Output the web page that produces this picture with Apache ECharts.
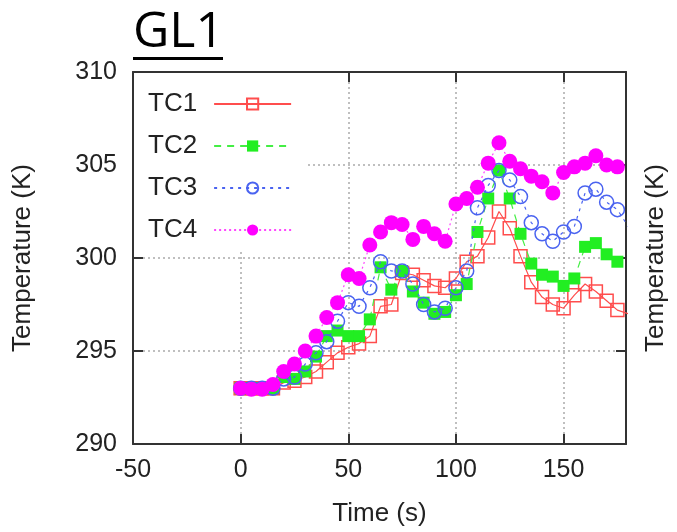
<!DOCTYPE html>
<html>
<head>
<meta charset="utf-8">
<script src="https://cdn.jsdelivr.net/npm/echarts@6/dist/echarts.min.js"></script>
<style>html,body{margin:0;padding:0;background:#fff}#c{width:677px;height:532px}</style>
</head>
<body>
<div id="c"></div>
<script>
const times = [0,5,10,15,20,25,30,35,40,45,50,55,60,65,70,75,80,85,90,95,100,105,110,115,120,125,130,135,140,145,150,155,160,165,170,175,180];
const tc1 = [293.0,293.0,293.0,293.0,293.3,293.4,293.6,293.9,294.4,294.9,295.2,295.4,295.8,297.4,297.5,299.2,299.1,298.8,298.5,298.4,298.9,299.8,300.1,301.1,302.5,301.6,300.1,298.7,297.9,297.5,297.3,298.0,298.6,298.2,297.7,297.2,297.0];
const tc2 = [293.0,293.0,293.0,293.0,293.6,293.5,293.9,294.7,295.8,296.1,295.8,295.8,296.7,299.5,298.3,299.3,298.2,297.6,297.0,297.1,298.0,298.6,301.4,303.2,304.7,303.2,301.3,299.7,299.1,299.0,298.5,298.9,300.6,300.8,300.2,299.8,null];
const tc3 = [293.0,293.0,293.0,293.0,293.5,293.6,294.3,294.9,295.5,296.6,297.6,297.4,298.4,299.8,299.3,299.3,298.6,297.5,297.1,297.3,298.4,299.3,302.7,303.9,304.7,304.2,303.3,301.9,301.3,300.9,301.4,301.7,303.5,303.7,303.0,302.6,301.7];
const tc4 = [293.0,292.95,292.95,293.2,293.9,294.3,295.0,295.8,296.8,297.6,299.1,298.9,300.7,301.4,301.9,301.8,301.0,301.7,301.3,300.9,302.9,303.2,303.8,305.1,306.2,305.2,304.8,304.4,304.1,303.5,304.6,304.9,305.1,305.5,305.0,304.9,null];
const seriesNames = ['TC1','TC2','TC3','TC4'];
const xTitle = 'Time (s)';
const yTitle = 'Temperature (K)';
const chartTitle = 'GL1';

function pairs(arr){ return times.map((t,i)=>[t,arr[i]]); }

const FONT = 'Liberation Sans';
const axisCol = '#333';
const chart = echarts.init(document.getElementById('c'), null, {renderer:'canvas'});
const gridLine = {show:true, lineStyle:{color:'#aaa', width:1.5, type:[2,3]}};
const tickIn = {show:true, inside:true, length:10, lineStyle:{color:axisCol, width:2}};
const axLine = {show:true, onZero:false, lineStyle:{color:axisCol, width:2}};

chart.setOption({
  animation:false,
  backgroundColor:'#fff',
  title:{text:chartTitle, left:128, top:3, textStyle:{fontFamily:'Open Sans', fontSize:50, fontWeight:'normal', color:'#000'}},
  graphic:[{type:'rect', shape:{x:133, y:57, width:90, height:3}, style:{fill:'#000'}}],
  grid:{left:133, right:37, top:72, bottom:86, containLabel:false},
  legend:{
    orient:'vertical', left:134, top:73, align:'right',
    backgroundColor:'#fff', padding:[18,14,7,14],
    itemWidth:77, itemHeight:14, itemGap:16,
    textStyle:{fontFamily:FONT, fontSize:26, color:'#222', lineHeight:26, padding:[0,12,0,0]},
    data:seriesNames
  },
  xAxis:[
    {type:'value', min:-50, max:179, interval:50, position:'bottom',
     axisLine:axLine, axisTick:tickIn, splitLine:gridLine,
     axisLabel:{margin:14, fontFamily:FONT, fontSize:25, color:'#222', showMaxLabel:false},
     name:xTitle, nameLocation:'middle', nameGap:57,
     nameTextStyle:{fontFamily:FONT, fontSize:26, color:'#222'}},
    {type:'value', min:-50, max:179, interval:50, position:'top',
     axisLine:axLine, axisTick:tickIn, splitLine:{show:false}, axisLabel:{show:false}}
  ],
  yAxis:[
    {type:'value', min:290, max:310, interval:5, position:'left',
     axisLine:axLine, axisTick:tickIn, splitLine:gridLine,
     axisLabel:{margin:16, fontFamily:FONT, fontSize:25, color:'#222'},
     name:yTitle, nameLocation:'middle', nameGap:97, nameRotate:90,
     nameTextStyle:{fontFamily:FONT, fontSize:26, color:'#222'}},
    {type:'value', min:290, max:310, interval:5, position:'right',
     axisLine:axLine, axisTick:tickIn, splitLine:{show:false}, axisLabel:{show:false},
     name:yTitle, nameLocation:'middle', nameGap:17, nameRotate:90,
     nameTextStyle:{fontFamily:FONT, fontSize:26, color:'#222'}}
  ],
  series:[
    {name:'TC1', type:'line', data:pairs(tc1), symbol:'rect', symbolSize:13,
     itemStyle:{color:'rgba(255,255,255,0)', borderColor:'#ff4d4d', borderWidth:1.5},
     lineStyle:{color:'#ff4d4d', width:1.2}, z:2},
    {name:'TC2', type:'line', data:pairs(tc2), symbol:'rect', symbolSize:12,
     itemStyle:{color:'#22ee22', borderColor:'#22ee22', borderWidth:0},
     lineStyle:{color:'#44ee44', width:1.2, type:[7,6]}, z:3},
    {name:'TC3', type:'line', data:pairs(tc3), symbol:'circle', symbolSize:14,
     itemStyle:{color:'rgba(255,255,255,0)', borderColor:'#4a63f0', borderWidth:1.5},
     lineStyle:{color:'#4a63f0', width:1.2, type:[3,5]}, z:4},
    {name:'TC4', type:'line', data:pairs(tc4), symbol:'circle', symbolSize:15,
     itemStyle:{color:'#ff00ff', borderWidth:0},
     lineStyle:{color:'#ff44ff', width:1.2, type:[2,3]}, z:5}
  ]
});
</script>
</body>
</html>
